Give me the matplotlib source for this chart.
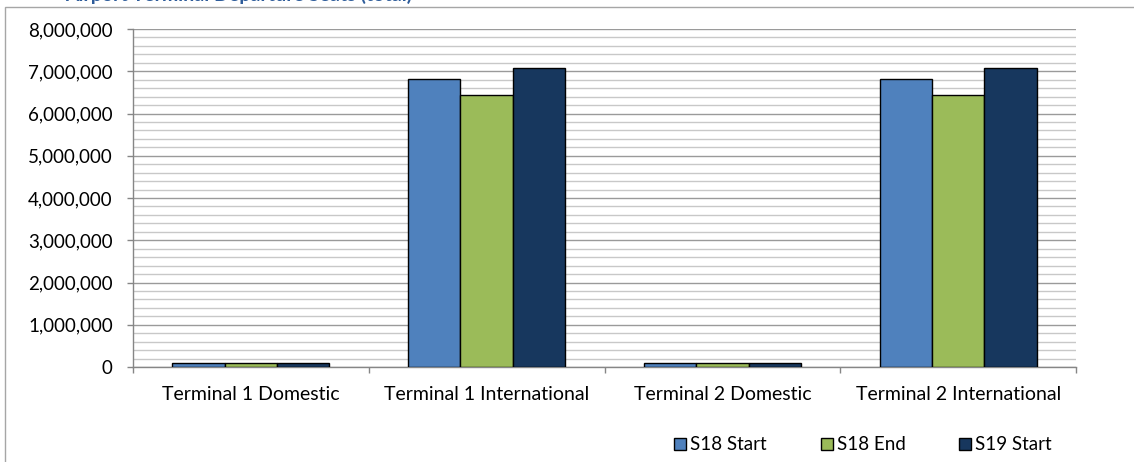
import matplotlib.pyplot as plt
import matplotlib.ticker as mticker
from matplotlib.patches import Rectangle, Patch
import numpy as np

plt.rcParams['font.family'] = ['Lato', 'DejaVu Sans']

categories = ['Terminal 1 Domestic', 'Terminal 1 International',
              'Terminal 2 Domestic', 'Terminal 2 International']
series_names = ['S18 Start', 'S18 End', 'S19 Start']
s18_start = [90000, 6810000, 90000, 6810000]
s18_end = [90000, 6430000, 90000, 6430000]
s19_start = [90000, 7070000, 90000, 7070000]
colors = ['#4F81BD', '#9BBB59', '#17375E']

fig = plt.figure(figsize=(11.34, 4.62), dpi=100)
W, H = 1134, 462

# outer chart frame (runs off the right and bottom edge)
fig.patches.append(Rectangle((5 / W, -0.1), 1.2, (H - 7) / H + 0.1,
                             transform=fig.transFigure, fill=False,
                             edgecolor='#A6A6A6', linewidth=1.0))

# heading above the chart, mostly cut off by the top edge
fig.text(65 / W, (H - 0.5) / H, 'Airport Terminal Departure Seats (total)',
         color='#2E5C9A', fontsize=14, fontweight='bold', va='baseline', ha='left')

ax = fig.add_axes([133 / W, 95 / H, (1076 - 133) / W, (367 - 29) / H])

x = np.arange(len(categories))
w = 1 / 4.5
for i, (vals, name) in enumerate(zip([s18_start, s18_end, s19_start], series_names)):
    ax.bar(x + (i - 1) * w, vals, width=w, color=colors[i], edgecolor='black',
           linewidth=1.0, label=name, zorder=3)

ax.set_xlim(-0.5, len(categories) - 0.5)
ax.set_ylim(0, 8000000)
ax.yaxis.set_major_locator(mticker.MultipleLocator(1000000))
ax.yaxis.set_minor_locator(mticker.MultipleLocator(200000))
ax.yaxis.set_major_formatter(mticker.FuncFormatter(lambda v, p: f'{int(v):,}'))
ax.grid(axis='y', which='major', color='#9A9A9A', linewidth=1.0, zorder=0)
ax.grid(axis='y', which='minor', color='#C8C8C8', linewidth=1.0, zorder=0)
ax.set_axisbelow(True)

ax.set_xticks(x)
ax.set_xticklabels(categories)
ax.set_xticks(np.arange(-0.5, len(categories)), minor=True)
ax.tick_params(axis='x', which='major', length=0, pad=13.5, labelsize=14)
ax.tick_params(axis='x', which='minor', length=4.5, color='#868686', width=1.0)
ax.tick_params(axis='y', which='major', length=4.5, color='#868686', width=1.0,
               pad=10, labelsize=13.5)
ax.tick_params(axis='y', which='minor', length=0)

for side in ['top', 'right']:
    ax.spines[side].set_visible(False)
for side in ['left', 'bottom']:
    ax.spines[side].set_color('#868686')
    ax.spines[side].set_linewidth(1.0)

handles = [Patch(facecolor=c, edgecolor='black', linewidth=1.0) for c in colors]
fig.legend(handles, series_names, loc='center', bbox_to_anchor=(863 / W, (H - 445) / H),
           ncol=3, frameon=False, fontsize=13.5, handlelength=0.64, handleheight=0.64,
           handletextpad=0.22, columnspacing=2.85, borderpad=0)

fig.savefig('out.png', dpi=100)
